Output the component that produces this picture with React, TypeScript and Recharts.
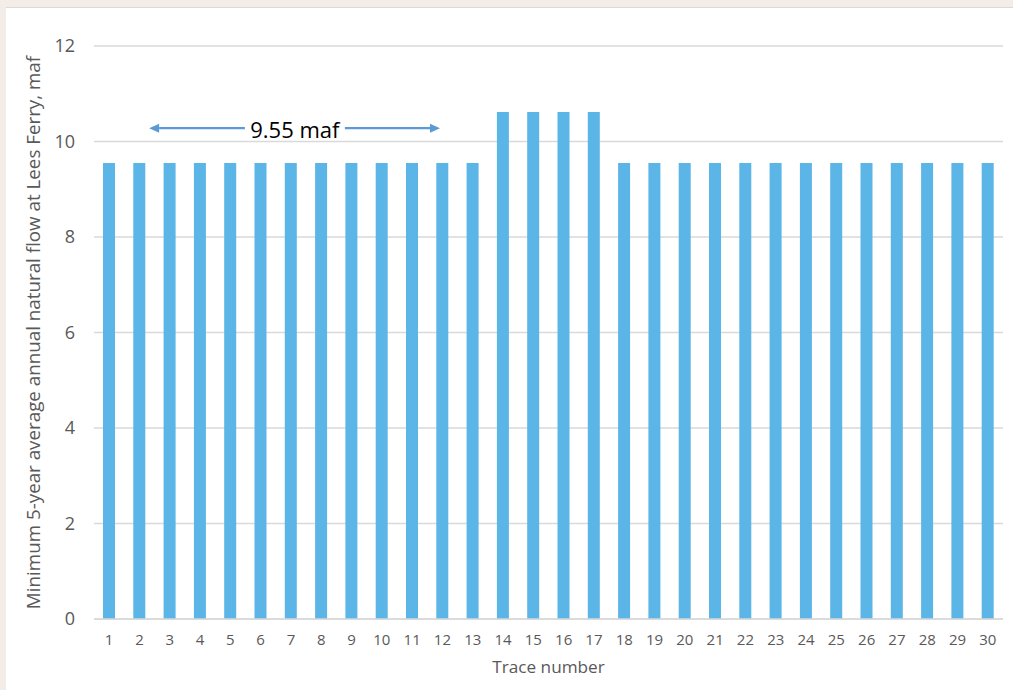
import { BarChart, Bar, XAxis, YAxis, CartesianGrid, ReferenceLine } from 'recharts';

const traces = Array.from({ length: 30 }, (_, i) => i + 1);
const minFlow = [
  9.55, 9.55, 9.55, 9.55, 9.55, 9.55, 9.55, 9.55, 9.55, 9.55,
  9.55, 9.55, 9.55, 10.62, 10.62, 10.62, 10.62, 9.55, 9.55, 9.55,
  9.55, 9.55, 9.55, 9.55, 9.55, 9.55, 9.55, 9.55, 9.55, 9.55,
];
const yTicks = [0, 2, 4, 6, 8, 10, 12];
const annotationText = '9.55 maf';
const annotationY = 10.28;
const leftArrow = [5.48, 2.32];
const rightArrow = [8.78, 11.92];
const annotationX = 7.13;

const data = traces.map((t, i) => ({ trace: t, flow: minFlow[i] }));

const FONT = '"Open Sans", "Noto Sans", sans-serif';
const ARROW = '#5b9bd5';

function ArrowShape(props: any) {
  const { x1, y1, x2, y2 } = props;
  const dir = x2 > x1 ? 1 : -1;
  const head = 10;
  return (
    <g>
      <line x1={x1} y1={y1} x2={x2 - dir * head} y2={y2} stroke={ARROW} strokeWidth={2.2} />
      <polygon
        points={`${x2},${y2} ${x2 - dir * head},${y2 - 4.5} ${x2 - dir * head},${y2 + 4.5}`}
        fill={ARROW}
      />
    </g>
  );
}

function TextShape(props: any) {
  const { x1, y1, x2 } = props;
  return (
    <text
      x={(x1 + x2) / 2}
      y={y1}
      dy={10}
      textAnchor="middle"
      fontSize={22}
      fontFamily={FONT}
      fill="#000"
    >
      {annotationText}
    </text>
  );
}

function YLabel(props: any) {
  const vb = props.viewBox;
  const cy = vb.y + vb.height / 2;
  return (
    <text
      x={27}
      y={cy}
      transform={`rotate(-90, 27, ${cy})`}
      textAnchor="middle"
      dominantBaseline="central"
      fontSize={18.8}
      fontFamily={FONT}
      fill="#595959"
    >
      Minimum 5-year average annual natural flow at Lees Ferry, maf
    </text>
  );
}

export default function App() {
  return (
    <div
      style={{
        position: 'absolute',
        left: 0,
        top: 0,
        width: 1013,
        height: 690,
        background: '#f4ece6',
        overflow: 'hidden',
      }}
    >
      <div
        style={{
          position: 'absolute',
          left: 6,
          top: 7,
          width: 1007,
          height: 683,
          background: '#fff',
          borderTop: '1px solid #dcd8d4',
        }}
      >
        <BarChart
          width={1007}
          height={682}
          data={data}
          margin={{ top: 38, right: 10, bottom: 0, left: 0 }}
        >
          <CartesianGrid vertical={false} stroke="#d9d9d9" strokeWidth={1.5} />
          <XAxis
            dataKey="trace"
            type="number"
            domain={[0.5, 30.5]}
            ticks={traces}
            interval={0}
            height={71}
            tickSize={0}
            tickMargin={15}
            axisLine={{ stroke: '#d9d9d9', strokeWidth: 1.5 }}
            tick={{ fill: '#595959', fontSize: 15, fontFamily: FONT }}
            label={{
              value: 'Trace number',
              position: 'insideBottom',
              offset: 17,
              fill: '#595959',
              fontSize: 17.2,
              fontFamily: FONT,
            }}
          />
          <YAxis
            domain={[0, 12]}
            ticks={yTicks}
            width={88}
            tickSize={0}
            tickMargin={19}
            axisLine={false}
            tick={{ fill: '#595959', fontSize: 18, fontFamily: FONT }}
            label={<YLabel />}
          />
          <Bar dataKey="flow" fill="#5bb5e7" barSize={12} isAnimationActive={false} />
          <ReferenceLine
            segment={[
              { x: leftArrow[0], y: annotationY },
              { x: leftArrow[1], y: annotationY },
            ]}
            shape={<ArrowShape />}
          />
          <ReferenceLine
            segment={[
              { x: rightArrow[0], y: annotationY },
              { x: rightArrow[1], y: annotationY },
            ]}
            shape={<ArrowShape />}
          />
          <ReferenceLine
            segment={[
              { x: annotationX, y: annotationY },
              { x: annotationX, y: annotationY },
            ]}
            shape={<TextShape />}
          />
        </BarChart>
      </div>
    </div>
  );
}
